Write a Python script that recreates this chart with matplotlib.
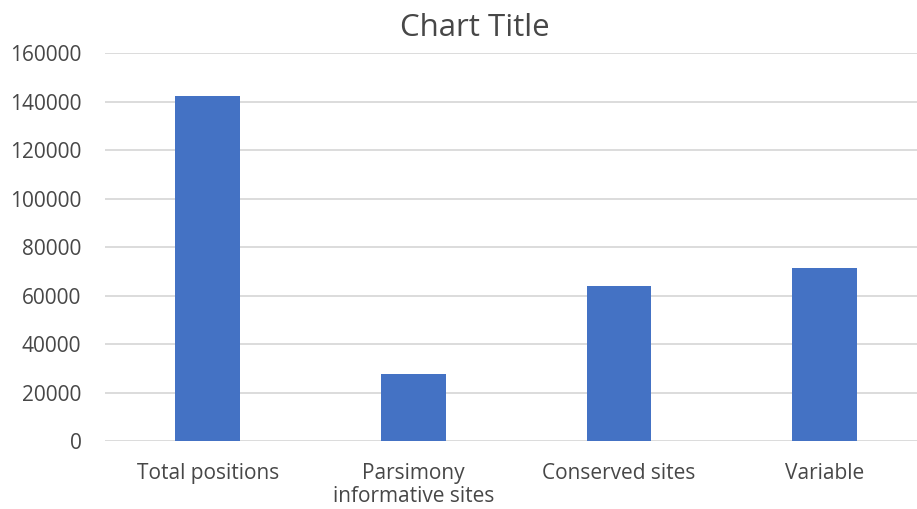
import matplotlib.pyplot as plt

categories = ["Total positions", "Parsimony\ninformative sites", "Conserved sites", "Variable"]
values = [142500, 27650, 63850, 71250]
yticks = [0, 20000, 40000, 60000, 80000, 100000, 120000, 140000, 160000]

plt.rcParams['font.family'] = ['Open Sans', 'DejaVu Sans']
grey = "#474747"

fig = plt.figure(figsize=(9.17, 5.09), dpi=100)
ax = fig.add_axes([105/917, 1 - 441/509, 812/917, (441 - 53.3)/509])

x = range(len(categories))
ax.bar(x, values, width=0.315, color="#4472C4", zorder=3)

ax.set_xlim(-0.5, 3.45)
ax.set_ylim(0, 160000)
ax.set_yticks(yticks)
ax.set_yticklabels([str(v) for v in yticks], color=grey, fontsize=15)
ax.set_xticks(list(x))
ax.set_xticklabels(categories, color=grey, fontsize=15, linespacing=1.1)
ax.tick_params(axis='y', length=0, pad=17)
ax.tick_params(axis='x', length=0, pad=16)
ax.grid(axis='y', color="#d9d9d9", linewidth=1.3, zorder=0)
for s in ax.spines.values():
    s.set_visible(False)

fig.text(475/917, 1 - 28/509, "Chart Title", ha='center', va='center',
         fontsize=22.5, color=grey)

fig.savefig("out.png", dpi=100)
